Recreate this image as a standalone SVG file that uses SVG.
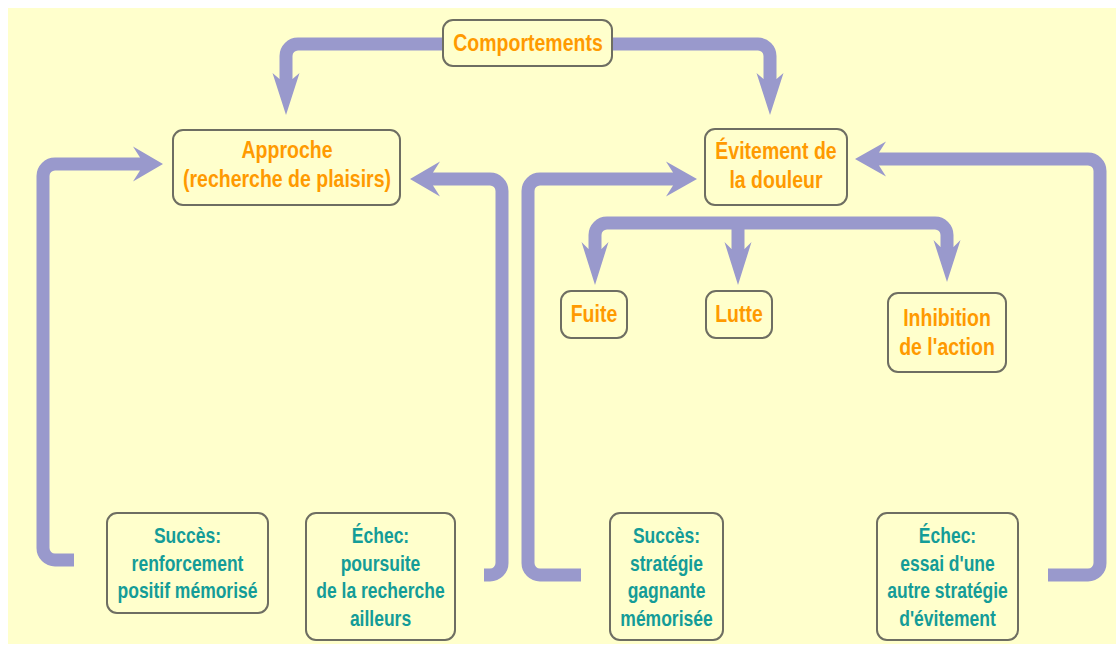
<svg xmlns="http://www.w3.org/2000/svg" width="1116" height="646" viewBox="0 0 1116 646">
<style>
.box{fill:#FFFFCC;stroke:#6E6E62;stroke-width:2}
.or{font-family:"Liberation Sans",Arial,sans-serif;font-weight:bold;font-size:19.5px;fill:#FF9A00;text-anchor:middle}
.te{font-family:"Liberation Sans",Arial,sans-serif;font-weight:bold;font-size:17.5px;fill:#149C98;text-anchor:middle}
.ln{fill:none;stroke:#9999CC;stroke-width:13}
.ah{fill:#9999CC}
</style>
<rect x="0" y="0" width="1116" height="646" fill="#FFFFFF"/>
<rect x="8" y="8" width="1108" height="636" fill="#FFFFCC"/>
<g id="connectors">
<path class="ln" d="M443 44 H298 A12 12 0 0 0 286 56 V80"/>
<polygon class="ah" points="279.5,79 272.5,73 286,115 299.5,73 292.5,79"/>
<path class="ln" d="M612 44 H758 A12 12 0 0 1 770 56 V80"/>
<polygon class="ah" points="763.5,79 756.5,73 770,115 783.5,73 776.5,79"/>
<path class="ln" d="M74 560 H55 A12 12 0 0 1 43 548 V176 A12 12 0 0 1 55 164 H141"/>
<polygon class="ah" points="140,157.5 133,146.5 163,164 133,181.5 140,170.5"/>
<path class="ln" d="M484 575 H490 A12 12 0 0 0 502 563 V191 A12 12 0 0 0 490 179 H433"/>
<polygon class="ah" points="433,172.5 440,161.5 410,179 440,196.5 433,185.5"/>
<path class="ln" d="M581 575 H540 A12 12 0 0 1 528 563 V191 A12 12 0 0 1 540 179 H674"/>
<polygon class="ah" points="673,172.5 666,161.5 697,179 666,196.5 673,185.5"/>
<path class="ln" d="M1048 575 H1088 A12 12 0 0 0 1100 563 V171 A12 12 0 0 0 1088 159 H878"/>
<polygon class="ah" points="879,152.5 886,141.5 855,159 886,176.5 879,165.5"/>
<path class="ln" d="M595 252 V235 A12 12 0 0 1 607 223 H935 A12 12 0 0 1 947 235 V248"/>
<path class="ln" d="M738 223 V252"/>
<polygon class="ah" points="588.5,249 581.5,242 595,285 608.5,242 601.5,249"/>
<polygon class="ah" points="731.5,249 724.5,242 738,285 751.5,242 744.5,249"/>
<polygon class="ah" points="940.5,247 933.5,240 947,282 960.5,240 953.5,247"/>
</g>
<g id="comportements">
<rect class="box" x="443" y="20" width="169" height="46" rx="10"/>
<text class="or" transform="translate(528,51) scale(1,1.22)">Comportements</text>
</g>
<g id="approche">
<rect class="box" x="173" y="130" width="227" height="75" rx="10"/>
<text class="or" transform="translate(287,158) scale(1,1.22)">Approche</text>
<text class="or" transform="translate(287,187) scale(1,1.22)">(recherche de plaisirs)</text>
</g>
<g id="evitement">
<rect class="box" x="705" y="129" width="142" height="76" rx="10"/>
<text class="or" transform="translate(776,159) scale(1,1.22)">Évitement de</text>
<text class="or" transform="translate(776,188) scale(1,1.22)">la douleur</text>
</g>
<g id="fuite">
<rect class="box" x="561" y="291" width="66" height="47" rx="10"/>
<text class="or" transform="translate(594,322) scale(1,1.22)">Fuite</text>
</g>
<g id="lutte">
<rect class="box" x="706" y="291" width="66" height="47" rx="10"/>
<text class="or" transform="translate(739,322) scale(1,1.22)">Lutte</text>
</g>
<g id="inhibition">
<rect class="box" x="888" y="293" width="118" height="79" rx="10"/>
<text class="or" transform="translate(947,326) scale(1,1.22)">Inhibition</text>
<text class="or" transform="translate(947,355) scale(1,1.22)">de l'action</text>
</g>
<g id="succes-approche">
<rect class="box" x="107" y="513" width="161" height="100" rx="10"/>
<text class="te" transform="translate(187.5,543) scale(1,1.25)">Succès:</text>
<text class="te" transform="translate(187.5,571) scale(1,1.25)">renforcement</text>
<text class="te" transform="translate(187.5,598) scale(1,1.25)">positif mémorisé</text>
</g>
<g id="echec-approche">
<rect class="box" x="306" y="513" width="149" height="127" rx="10"/>
<text class="te" transform="translate(380.5,543) scale(1,1.25)">Échec:</text>
<text class="te" transform="translate(380.5,571) scale(1,1.25)">poursuite</text>
<text class="te" transform="translate(380.5,598) scale(1,1.25)">de la recherche</text>
<text class="te" transform="translate(380.5,626) scale(1,1.25)">ailleurs</text>
</g>
<g id="succes-evitement">
<rect class="box" x="610" y="513" width="113" height="127" rx="10"/>
<text class="te" transform="translate(666.5,543) scale(1,1.25)">Succès:</text>
<text class="te" transform="translate(666.5,571) scale(1,1.25)">stratégie</text>
<text class="te" transform="translate(666.5,598) scale(1,1.25)">gagnante</text>
<text class="te" transform="translate(666.5,626) scale(1,1.25)">mémorisée</text>
</g>
<g id="echec-evitement">
<rect class="box" x="877" y="513" width="141" height="127" rx="10"/>
<text class="te" transform="translate(947.5,543) scale(1,1.25)">Échec:</text>
<text class="te" transform="translate(947.5,571) scale(1,1.25)">essai d'une</text>
<text class="te" transform="translate(947.5,598) scale(1,1.25)">autre stratégie</text>
<text class="te" transform="translate(947.5,626) scale(1,1.25)">d'évitement</text>
</g>
</svg>
